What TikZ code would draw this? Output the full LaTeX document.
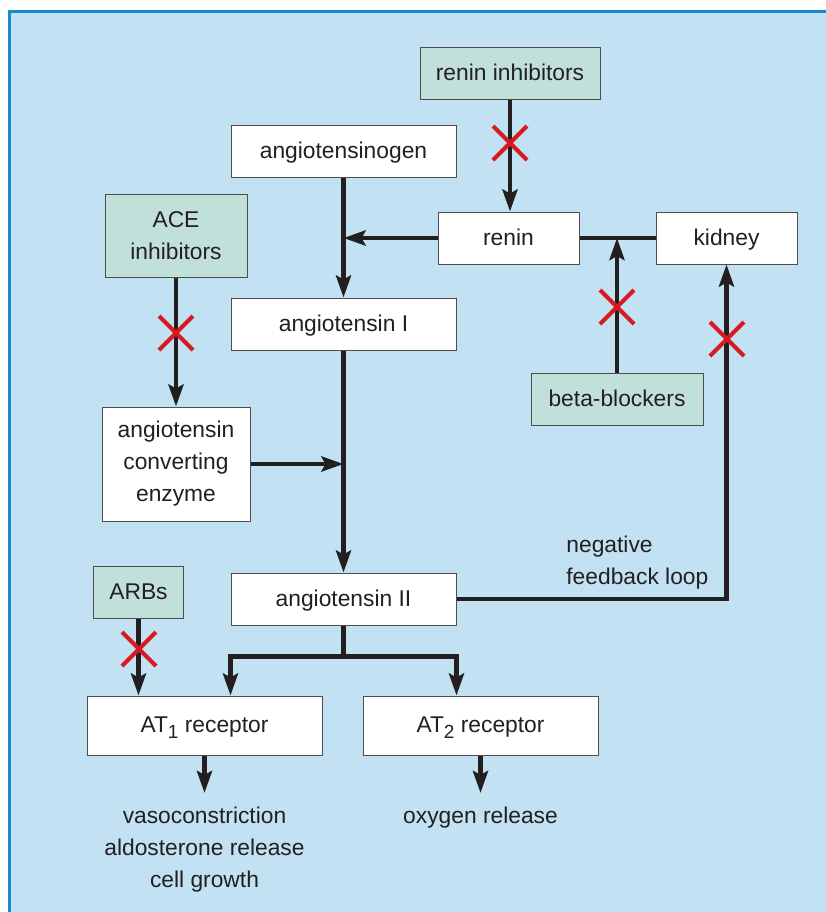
\documentclass[tikz,border=0pt]{standalone}
\usepackage{fontspec}
\setmainfont{Liberation Sans}
\usepackage{tikz}
\usetikzlibrary{arrows.meta,shapes.misc}
\definecolor{bgblue}{HTML}{C2E2F4}
\definecolor{frameblue}{HTML}{1A8AD0}
\definecolor{drugfill}{HTML}{C1E0DA}
\definecolor{blockred}{HTML}{D71920}
\definecolor{ink}{HTML}{231F20}
\newcommand{\recsub}[1]{\raisebox{-3pt}{\fontsize{9.5}{9.5}\selectfont #1}}

\begin{document}
\begin{tikzpicture}[x=0.5pt,y=-0.5pt,
	cell/.style={draw=ink!80, line width=0.5pt, fill=white, text=ink, align=center, inner sep=0pt, font=\fontsize{11.4}{16}\selectfont},
	box/.style={cell, text height=9.6pt, text depth=2.2pt},
	drug/.style={box, fill=drugfill},
	note/.style={text=ink, inner sep=3pt, font=\fontsize{11.4}{16}\selectfont},
	flow/.style={draw=ink, line width=2.4pt, -{Stealth[length=11pt,width=7.5pt,inset=2pt]}},
	link/.style={draw=ink, line width=2.4pt},
	block/.style={cross out, draw=blockred, line width=2pt, minimum size=15pt, inner sep=0pt}]
\useasboundingbox (0,0) rectangle (826,912);
\fill [bgblue] (9,12) rectangle (826,912);
\draw [frameblue, line width=1.5pt] (9.5,912) |- (826,11.5);

\node [drug, minimum width=90pt, minimum height=26pt] (rinh) at (510,73) {renin inhibitors};
\node [box, minimum width=112.5pt, minimum height=26pt] (agen) at (343.5,151) {angiotensinogen};
\node [box, minimum width=70.5pt, minimum height=26pt] (renin) at (508.5,238) {renin};
\node [box, minimum width=70.5pt, minimum height=26pt] (kidney) at (726.5,238) {kidney};
\node [cell, fill=drugfill, minimum width=71pt, minimum height=41.5pt] (acei) at (176,235.5) {ACE\\inhibitors};
\node [box, minimum width=112.5pt, minimum height=26pt] (ang1) at (343.5,324) {angiotensin I};
\node [drug, minimum width=86pt, minimum height=26pt] (bb) at (617,399) {beta-blockers};
\node [cell, minimum width=74pt, minimum height=57pt] (ace) at (176,464) {angiotensin\\converting\\enzyme};
\node [box, minimum width=112.5pt, minimum height=26pt] (ang2) at (343.5,599) {angiotensin II};
\node [drug, minimum width=45pt, minimum height=26pt] (arbs) at (138.5,592) {ARBs};
\node [box, minimum width=117.5pt, minimum height=29.5pt] (at1) at (204.5,725.5) {AT\recsub{1} receptor};
\node [box, minimum width=117.5pt, minimum height=29.5pt] (at2) at (480.5,725.5) {AT\recsub{2} receptor};
\node [note, anchor=north, align=center] (eff1) at (204.5,801) {vasoconstriction\\aldosterone release\\cell growth};
\node [note, anchor=north] (eff2) at (480.5,801) {oxygen release};
\node [note, anchor=west, align=left, inner sep=0pt] (loop) at (566,563) {negative\\feedback loop};

\draw [flow] (rinh) -- (rinh |- renin.north);
\draw [flow] (agen) -- (ang1);
\draw [flow] (renin.west) -- (renin.west -| agen.south);
\draw [link] (renin) -- (kidney);
\draw [flow] (bb) -- (bb |- renin.east);
\draw [flow] (acei) -- (ace);
\draw [flow] (ace.east) -- (ace.east -| ang1.south);
\draw [flow] (ang1) -- (ang2);
\draw [flow] (ang2.east) -| (kidney.south);
\draw [link] (ang2.south) -- ++(0,31) coordinate (split);
\draw [flow] (split) -| (at1.north -| ang2.west);
\draw [flow] (split) -| (at2.north -| ang2.east);
\draw [flow] (arbs) -- (arbs |- at1.north);
\draw [flow, shorten >=4pt] (at1) -- (eff1);
\draw [flow, shorten >=4pt] (at2) -- (eff2);

\foreach \p in {(510,143),(176,333),(617,307),(727,339),(139,649)}
	\node [block] at \p {};
\end{tikzpicture}
\end{document}
